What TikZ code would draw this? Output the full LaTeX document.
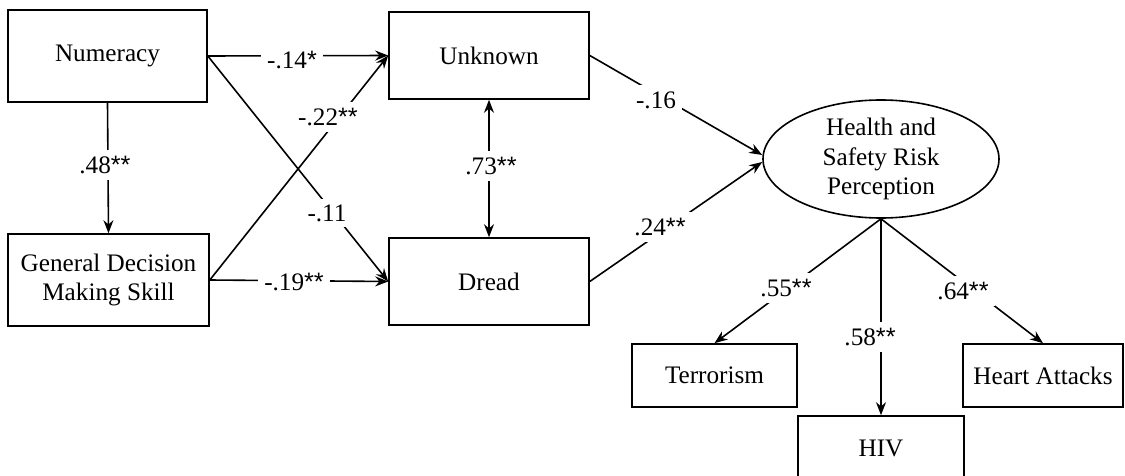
\documentclass[tikz,border=0pt]{standalone}
\usepackage{fontspec}
\setmainfont{Liberation Serif}
\newfontfamily\astfont{Liberation Sans}
\newcommand{\sg}[1]{{\astfont #1}}
\usetikzlibrary{shapes.geometric,arrows.meta}
\begin{document}
\begin{tikzpicture}[x=0.5pt,y=-0.5pt,
  font=\fontsize{12.6}{14.8}\selectfont,
  line width=0.8pt,
  >={Stealth[length=6.5pt,width=5pt]},
  box/.style={draw,rectangle,inner sep=0pt,align=center},
  lbl/.style={fill=white,inner sep=3pt},
  conn/.style={->}]
\clip (0,0) rectangle (1125,476);
% nodes
\node[box,minimum width=99.5pt,minimum height=46pt] (num) at (107.5,56) {Numeracy};
\node[box,minimum width=100.5pt,minimum height=46pt] (gdms) at (108.5,280) {General Decision\\Making Skill};
\node[box,minimum width=100pt,minimum height=43.5pt] (unk) at (489,55.5) {Unknown};
\node[box,minimum width=100pt,minimum height=43.5pt] (dread) at (489,281.5) {Dread};
\node[draw,ellipse,inner sep=0pt,minimum width=118pt,minimum height=59pt,align=center] (hs) at (881,159) {Health and\\Safety Risk\\Perception};
\node[box,minimum width=82.5pt,minimum height=31.5pt] (terr) at (714.5,375.5) {Terrorism};
\node[box,minimum width=83pt,minimum height=32pt] (hiv) at (881,448) {HIV};
\node[box,minimum width=80pt,minimum height=31.5pt] (heart) at (1043,375.5) {Heart Attacks};
% connectors
\draw[conn] (num.south) -- (gdms.north);
\draw[conn] (num.east) -- (unk.west);
\draw[conn] (num.east) -- (dread.west);
\draw[conn] (gdms.east) -- (unk.west);
\draw[conn] (gdms.east) -- (dread.west);
\draw[<->] (unk.south) -- (dread.north);
\draw[conn] (unk.east) -- ([yshift=2pt]hs.west);
\draw[conn] (dread.east) -- ([yshift=-1.5pt]hs.west);
\draw[conn] (hs.south) -- (terr.north);
\draw[conn] (hs.south) -- (hiv.north);
\draw[conn] (hs.south) -- (heart.north);
% labels
\node[lbl] (l48) at (105,165) {.48\sg{**}};
\node[lbl] (l14) at (292,60) {-.14\sg{*}};
\node[lbl] (l22) at (328,117) {-.22\sg{**}};
\node[lbl] (l11) at (327,213) {-.11};
\node[lbl] (l19) at (294,282) {-.19\sg{**}};
\node[lbl] (l73) at (491,166) {.73\sg{**}};
\node[lbl] (l16) at (656,100) {-.16};
\node[lbl] (l24) at (660,227) {.24\sg{**}};
\node[lbl] (l55) at (786,288) {.55\sg{**}};
\node[lbl] (l58) at (870,337) {.58\sg{**}};
\node[lbl] (l64) at (963,291) {.64\sg{**}};
\end{tikzpicture}
\end{document}
